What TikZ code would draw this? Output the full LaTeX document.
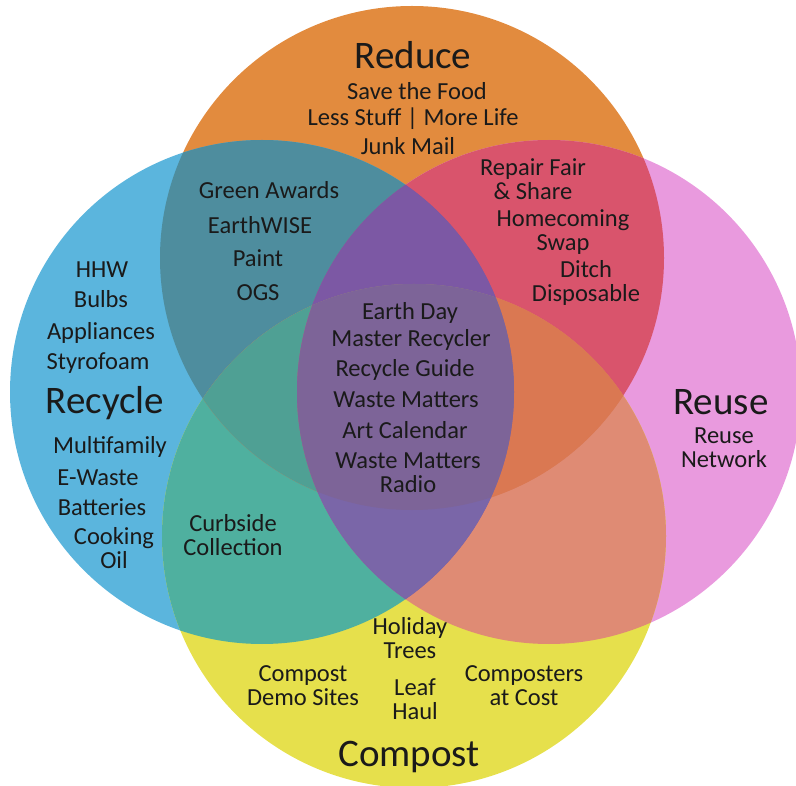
\documentclass[tikz,border=0pt]{standalone}
\usepackage{fontspec}
\setmainfont{Carlito}
\begin{document}
% Four-circle diagram of waste programmes; each overlap region gets its own colour
\definecolor{cO}{HTML}{E28B3E}
\definecolor{cB}{HTML}{5BB5DD}
\definecolor{cP}{HTML}{E99ADE}
\definecolor{cY}{HTML}{E6E04C}
\definecolor{cBO}{HTML}{4E8D9E}
\definecolor{cOP}{HTML}{D9546C}
\definecolor{cBY}{HTML}{4FB09F}
\definecolor{cPY}{HTML}{DF8B74}
\definecolor{cBP}{HTML}{7C58A4}
\definecolor{cOY}{HTML}{DA7852}
\definecolor{cBOP}{HTML}{7C58A4}
\definecolor{cBOY}{HTML}{4FA094}
\definecolor{cOPY}{HTML}{DA7852}
\definecolor{cBPY}{HTML}{7A66A8}
\definecolor{cAll}{HTML}{7D6498}
\definecolor{ink}{HTML}{1A1A1A}
\begin{tikzpicture}[x=1pt,y=-1pt,
  item/.style={font=\fontsize{24.5}{24}\selectfont, align=center, text=ink, inner sep=0pt},
  heading/.style={font=\fontsize{39}{40}\selectfont, text=ink, inner sep=0pt}]
\useasboundingbox (0,0) rectangle (796,786);
% circle centres and radius
\def\rr{252}
\coordinate (cRed) at (412,258);
\coordinate (cRec) at (262,392);
\coordinate (cReu) at (549,392);
\coordinate (cCom) at (414,536);
\def\cRed{(cRed) circle[radius=\rr]}
\def\cRec{(cRec) circle[radius=\rr]}
\def\cReu{(cReu) circle[radius=\rr]}
\def\cCom{(cCom) circle[radius=\rr]}
% single circles
\fill[cO] \cRed;
\fill[cB] \cRec;
\fill[cP] \cReu;
\fill[cY] \cCom;
% pairwise overlaps
\begin{scope}\clip \cRec; \fill[cBO] \cRed; \end{scope}
\begin{scope}\clip \cRed; \fill[cOP] \cReu; \end{scope}
\begin{scope}\clip \cRec; \fill[cBY] \cCom; \end{scope}
\begin{scope}\clip \cReu; \fill[cPY] \cCom; \end{scope}
\begin{scope}\clip \cRec; \fill[cBP] \cReu; \end{scope}
\begin{scope}\clip \cRed; \fill[cOY] \cCom; \end{scope}
% triple overlaps
\begin{scope}\clip \cRec; \clip \cRed; \fill[cBOP] \cReu; \end{scope}
\begin{scope}\clip \cRec; \clip \cRed; \fill[cBOY] \cCom; \end{scope}
\begin{scope}\clip \cRed; \clip \cReu; \fill[cOPY] \cCom; \end{scope}
\begin{scope}\clip \cRec; \clip \cReu; \fill[cBPY] \cCom; \end{scope}
% all four
\begin{scope}\clip \cRec; \clip \cRed; \clip \cReu; \fill[cAll] \cCom; \end{scope}

% Reduce
\node[heading] (tReduce) at (413,55) {Reduce};
\node[item] (food) at (417,91) {Save the Food};
\node[item] (stuff) at (413,119) {Less Stuff | More Life};
\node[item] (junk) at (408,146) {Junk Mail};
% Reduce + Recycle
\node[item] (awards) at (269,190) {Green Awards};
\node[item] (earthwise) at (260,225) {EarthWISE};
\node[item] (paint) at (258,258) {Paint};
\node[item] (ogs) at (258,293) {OGS};
% Reduce + Reuse
\node[item] (repair) at (533,179) {Repair Fair\\\& Share};
\node[item] (swap) at (563,232) {Homecoming\\Swap};
\node[item] (ditch) at (586,283) {Ditch\\Disposable};
% Recycle
\node[item] (hhw) at (102,270) {HHW};
\node[item] (bulbs) at (101,299) {Bulbs};
\node[item] (appl) at (101,333) {Appliances};
\node[item] (styro) at (98,363) {Styrofoam};
\node[heading] (tRecycle) at (105,403) {Recycle};
\node[item] (multi) at (110,447) {Multifamily};
\node[item] (ewaste) at (98,478) {E-Waste};
\node[item] (batt) at (102,507) {Batteries};
\node[item] (oil) at (114,548) {Cooking\\Oil};
% centre
\node[item] (earthday) at (410,313) {Earth Day};
\node[item] (master) at (411,340) {Master Recycler};
\node[item] (guide) at (405,370) {Recycle Guide};
\node[item] (wm) at (406,400) {Waste Matters};
\node[item] (art) at (405,430) {Art Calendar};
\node[item] (radio) at (408,473) {Waste Matters\\Radio};
% Reuse
\node[heading] (tReuse) at (721,402) {Reuse};
\node[item] (network) at (724,448) {Reuse\\Network};
% Recycle + Compost
\node[item] (curb) at (233,535) {Curbside\\Collection};
% Compost
\node[item] (holiday) at (410,638) {Holiday\\Trees};
\node[item] (demo) at (303,686) {Compost\\Demo Sites};
\node[item] (leaf) at (415,699) {Leaf\\Haul};
\node[item] (cost) at (524,686) {Composters\\at Cost};
\node[heading] (tCompost) at (409,757) {Compost};
\end{tikzpicture}
\end{document}
